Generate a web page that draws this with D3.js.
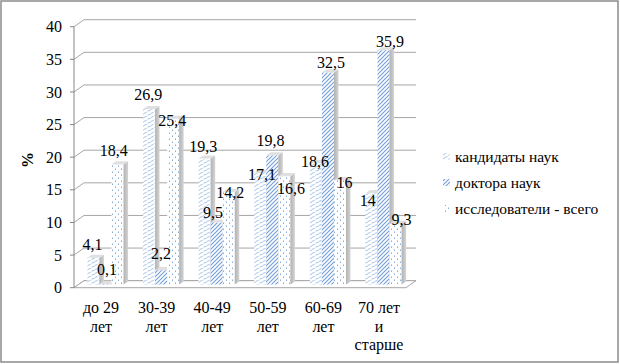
<!DOCTYPE html>
<html>
<head>
<meta charset="utf-8">
<script src="https://cdn.jsdelivr.net/npm/d3@7"></script>
<style>
  html, body { margin: 0; padding: 0; background: #fff; }
</style>
</head>
<body>
<svg id="chart" width="620" height="364"></svg>
<script>
// ---- data ----
const categories = [["до 29", "лет"], ["30-39", "лет"], ["40-49", "лет"], ["50-59", "лет"], ["60-69", "лет"], ["70 лет", "и", "старше"]];
const seriesNames = ["кандидаты наук", "доктора наук", "исследователи - всего"];
const candidates = [4.1, 26.9, 19.3, 17.1, 18.6, 14];
const doctors = [0.1, 2.2, 9.5, 19.8, 32.5, 35.9];
const researchers = [18.4, 25.4, 14.2, 16.6, 16, 9.3];
const yTicks = [0, 5, 10, 15, 20, 25, 30, 35, 40];

// label placement nudges (Excel 3D label layout), per series then category: [dx, dy]
const labelNudgeCandidates = [[-1, 0.7], [-0.7, -0.5], [-1.3, 1.5], [1.8, 15.5], [-0.8, 12.5], [-3.7, 21.5]];
const labelNudgeDoctors = [[1.5, -0.5], [0, -2.5], [-3.7, 4], [-1.8, -0.5], [3, 4], [6.5, 5]];
const labelNudgeResearchers = [[-3.7, 0], [-1, 15.5], [1.6, 14.5], [6.7, 26.5], [4.6, 16.5], [6, 9.5]];

const seriesValues = [candidates, doctors, researchers];
const labelNudges = [labelNudgeCandidates, labelNudgeDoctors, labelNudgeResearchers];
const FONT = "'Liberation Serif'";

const svg = d3.select("#chart");
const W = 620, H = 364;

// ---- geometry ----
const x0 = 74, x1 = 406;
const depth = { dx: 10, dy: -7 };
const front = { dx: 4.5, dy: -3.15 };
const bdep = { dx: 4.5, dy: -3.15 };

const y = d3.scaleLinear().domain([0, 40]).range([287.7, 26.7]);
const xCat = d3.scaleBand().domain(d3.range(categories.length)).range([x0, x1])
  .paddingInner(0.35).paddingOuter(0.16);
const xSer = d3.scaleBand().domain(d3.range(seriesNames.length)).range([0, xCat.bandwidth()]);

// ---- patterns ----
const defs = svg.append("defs");
function pat(id, w, h, draw) {
  const p = defs.append("pattern").attr("id", id).attr("patternUnits", "userSpaceOnUse")
    .attr("width", w).attr("height", h);
  p.append("rect").attr("width", w).attr("height", h).attr("fill", "#fff");
  draw(p);
}
pat("p0", 7, 4, p => {
  p.append("path").attr("d", "M0.5,3.3 C1.8,2.2 2.6,3.1 3.6,2 S5.2,0.8 6.5,0.6")
    .attr("fill", "none").attr("stroke", "#85aee0").attr("stroke-width", 0.85);
});
pat("p1", 4, 4, p => {
  p.append("path").attr("d", "M-1,1 L1,-1 M0,4 L4,0 M3,5 L5,3")
    .attr("stroke", "#6f9bd9").attr("stroke-width", 1.05);
});
pat("p2", 6, 6, p => {
  p.append("rect").attr("x", 1).attr("y", 0.5).attr("width", 1).attr("height", 1.5).attr("fill", "#85aee0");
  p.append("rect").attr("x", 4).attr("y", 3.5).attr("width", 1).attr("height", 1.5).attr("fill", "#85aee0");
});
const sideGrad = defs.append("linearGradient").attr("id", "side").attr("x1", 0).attr("x2", 1).attr("y1", 0).attr("y2", 0);
sideGrad.append("stop").attr("offset", 0).attr("stop-color", "#b2b2b2");
sideGrad.append("stop").attr("offset", 1).attr("stop-color", "#d4d4d4");

// ---- outer border ----
svg.append("rect").attr("x", 1).attr("y", 1).attr("width", W - 3).attr("height", H - 3)
  .attr("fill", "#fff").attr("stroke", "#8c8c8c").attr("stroke-width", 1.5);

// ---- walls / gridlines ----
const grid = svg.append("g").attr("stroke", "#a6a6a6").attr("stroke-width", 1).attr("fill", "none");
yTicks.forEach(t => {
  const yy = y(t);
  grid.append("line").attr("x1", x0 + depth.dx).attr("x2", x1 + depth.dx)
    .attr("y1", yy + depth.dy).attr("y2", yy + depth.dy);
  grid.append("line").attr("x1", x0).attr("x2", x0 + depth.dx)
    .attr("y1", yy).attr("y2", yy + depth.dy);
});
svg.append("path")
  .attr("d", `M${x0},${y(0)} L${x1},${y(0)} L${x1 + depth.dx},${y(0) + depth.dy} L${x0 + depth.dx},${y(0) + depth.dy} Z`)
  .attr("fill", "#fff").attr("stroke", "#a6a6a6");

// ---- y axis ----
const ax = svg.append("g");
ax.append("line").attr("x1", x0).attr("x2", x0).attr("y1", y(0)).attr("y2", y(40))
  .attr("stroke", "#868686");
yTicks.forEach(t => {
  ax.append("line").attr("x1", x0 - 4).attr("x2", x0).attr("y1", y(t)).attr("y2", y(t)).attr("stroke", "#868686");
  ax.append("text").attr("x", 62).attr("y", y(t)).attr("dy", "0.35em").style("font-family", FONT)
    .attr("text-anchor", "end").attr("font-size", 16).attr("fill", "#000").text(t);
});
svg.append("text").attr("transform", "translate(33,160) rotate(-90)").style("font-family", FONT)
  .attr("text-anchor", "middle").attr("font-size", 16).attr("font-weight", "bold").text("%");

// ---- bars ----
const bars = svg.append("g");
const labels = [];
categories.forEach((c, ci) => {
  seriesValues.forEach((vals, si) => {
    const v = vals[ci];
    const bx = xCat(ci) + xSer(si) + front.dx;
    const bw = xSer.bandwidth();
    const yt = y(v) + front.dy, yb = y(0) + front.dy;
    bars.append("rect").attr("x", bx).attr("y", yt).attr("width", bw).attr("height", yb - yt)
      .attr("fill", `url(#p${si})`);
    bars.append("path")
      .attr("d", `M${bx + bw},${yt} L${bx + bw + bdep.dx},${yt + bdep.dy} L${bx + bw + bdep.dx},${yb + bdep.dy} L${bx + bw},${yb} Z`)
      .attr("fill", "url(#side)");
    bars.append("path")
      .attr("d", `M${bx},${yt} L${bx + bw},${yt} L${bx + bw + bdep.dx},${yt + bdep.dy} L${bx + bdep.dx},${yt + bdep.dy} Z`)
      .attr("fill", "#e0e0e0");
    const [ndx, ndy] = labelNudges[si][ci];
    labels.push({ x: bx + bw / 2 + ndx, y: yt - 8.5 + ndy, t: String(v).replace(".", ",") });
  });
});
svg.append("g").selectAll("text").data(labels).join("text")
  .attr("x", d => d.x).attr("y", d => d.y).attr("text-anchor", "middle").style("font-family", FONT)
  .attr("font-size", 16).attr("fill", "#000").text(d => d.t);

// ---- category labels ----
categories.forEach((c, ci) => {
  const cx = xCat(ci) + xCat.bandwidth() / 2;
  const t = svg.append("text").attr("x", cx).attr("y", 313).attr("text-anchor", "middle")
    .style("font-family", FONT).attr("font-size", 16);
  c.forEach((line, li) => t.append("tspan").attr("x", cx).attr("dy", li === 0 ? 0 : 18.5).text(line));
});

// ---- legend ----
const lg = svg.append("g");
seriesNames.forEach((n, i) => {
  const yy = 157 + i * 26;
  lg.append("rect").attr("x", 443).attr("y", yy - 4).attr("width", 7).attr("height", 7).attr("fill", `url(#p${i})`);
  lg.append("text").attr("x", 455).attr("y", yy).attr("dy", "0.35em").style("font-family", FONT)
    .attr("font-size", 15.5).text(n);
});
</script>
</body>
</html>
